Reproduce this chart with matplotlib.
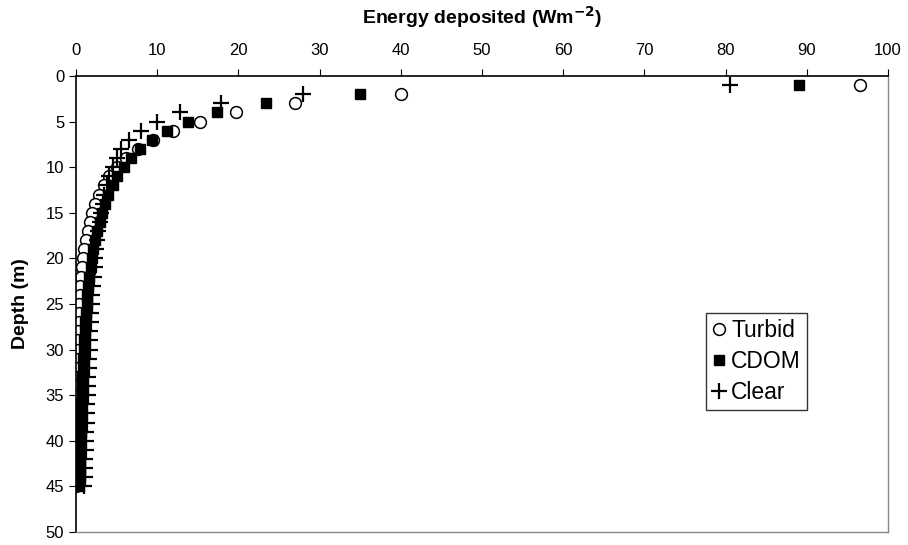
import matplotlib
matplotlib.use("Agg")
import matplotlib.pyplot as plt

plt.rcParams['font.family'] = ['Liberation Sans', 'DejaVu Sans']

depth = list(range(1, 46))

turbid = [96.5, 40, 27, 19.7, 15.3, 12, 9.5, 7.6, 6.1, 5.0,
          4.1, 3.4, 2.8, 2.35, 2.0, 1.7, 1.45, 1.22, 1.03, 0.87,
          0.74, 0.63, 0.54, 0.46, 0.4, 0.35, 0.31, 0.27, 0.24, 0.21,
          0.19, 0.17, 0.15, 0.13, 0.12, 0.11, 0.1, 0.09, 0.08, 0.07,
          0.06, 0.05, 0.05, 0.04, 0.04]
cdom = [89, 35, 23.4, 17.4, 13.8, 11.2, 9.4, 7.9, 6.8, 5.9,
        5.1, 4.5, 4.0, 3.6, 3.2, 2.9, 2.6, 2.35, 2.15, 1.95,
        1.8, 1.65, 1.52, 1.41, 1.31, 1.22, 1.14, 1.07, 1.0, 0.94,
        0.88, 0.83, 0.78, 0.74, 0.7, 0.66, 0.62, 0.59, 0.56, 0.53,
        0.5, 0.48, 0.46, 0.44, 0.42]
clear = [80.5, 28, 17.8, 12.8, 10, 8, 6.5, 5.6, 5.0, 4.5,
         4.1, 3.8, 3.5, 3.3, 3.1, 2.9, 2.75, 2.62, 2.5, 2.4,
         2.3, 2.2, 2.1, 2.02, 1.95, 1.89, 1.83, 1.77, 1.72, 1.67,
         1.62, 1.57, 1.52, 1.47, 1.43, 1.39, 1.35, 1.31, 1.27, 1.23,
         1.19, 1.15, 1.11, 1.07, 1.03]

fig = plt.figure(figsize=(9.08, 5.45), dpi=100)
ax = fig.add_axes([0.0837, 0.0239, 0.8943, 0.8367])

ax.plot(turbid, depth, 'o', mfc='white', mec='black', mew=1.1, ms=8.5, label='Turbid')
ax.plot(cdom, depth, 's', mfc='black', mec='black', ms=7.5, label='CDOM')
ax.plot(clear, depth, '+', color='black', mew=1.6, ms=12, label='Clear')

ax.set_xlim(0, 100)
ax.set_ylim(50, 0)
ax.set_xticks(range(0, 101, 10))
ax.set_yticks(range(0, 51, 5))
ax.xaxis.tick_top()
ax.xaxis.set_label_position('top')
ax.tick_params(direction='out', length=5, labelsize=12, colors='black')
ax.tick_params(axis='x', pad=8)

for side in ['left', 'top']:
    ax.spines[side].set_color('black')
    ax.spines[side].set_linewidth(1.2)
for side in ['right', 'bottom']:
    ax.spines[side].set_color('#888888')
    ax.spines[side].set_linewidth(1.0)

ax.set_xlabel('Energy deposited (Wm$^{\\mathbf{-2}}$)', fontsize=14, fontweight='bold', labelpad=14)
ax.set_ylabel('Depth (m)', fontsize=14, fontweight='bold', labelpad=12)

leg = ax.legend(loc='upper left', bbox_to_anchor=(0.776, 0.48), fontsize=16.5,
                frameon=True, fancybox=False, handlelength=0.6, handletextpad=0.25,
                borderpad=0.25, labelspacing=0.35, borderaxespad=0)
leg.get_frame().set_edgecolor('black')
leg.get_frame().set_linewidth(1.0)

fig.savefig('out.png', dpi=100)
